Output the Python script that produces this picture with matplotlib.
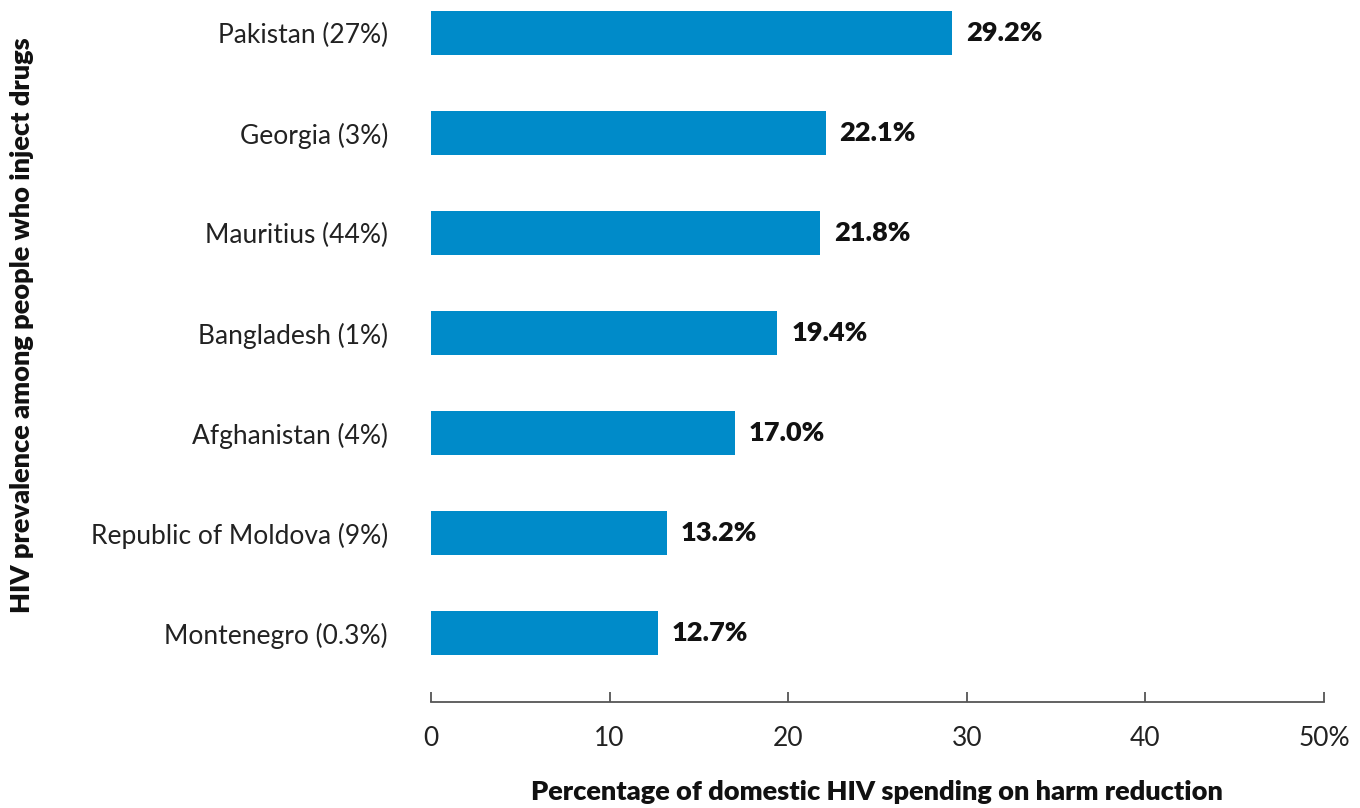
import matplotlib.pyplot as plt

# Countries (HIV prevalence among people who inject drugs) and harm reduction share
countries = ['Montenegro (0.3%)', 'Republic of Moldova (9%)', 'Afghanistan (4%)',
             'Bangladesh (1%)', 'Mauritius (44%)', 'Georgia (3%)', 'Pakistan (27%)']
spending = [12.7, 13.2, 17.0, 19.4, 21.8, 22.1, 29.2]
xticks = [0, 10, 20, 30, 40, 50]
xtick_labels = ['0', '10', '20', '30', '40', '50%']

plt.rcParams['font.family'] = ['Lato', 'DejaVu Sans']
bar_color = '#008BC9'

fig = plt.figure(figsize=(13.6, 8.08), dpi=100)
ax = fig.add_axes([0.3169, 0.1312, 0.6566, 0.8688])

pos = list(range(len(countries)))
ax.barh(pos, spending, height=0.44, color=bar_color)

for y, v in zip(pos, spending):
    ax.annotate(f'{v:.1f}%', xy=(v, y), xytext=(10, 0), textcoords='offset points',
                va='center', ha='left', fontsize=19.5, fontweight='heavy', color='#111111')

ax.set_xlim(0, 50)
ax.set_ylim(-0.69, 6.33)
ax.set_xticks(xticks)
ax.set_xticklabels(xtick_labels, fontsize=19, color='#222222')
ax.set_yticks(pos)
ax.set_yticklabels(countries, fontsize=19, color='#222222')

for side in ['top', 'right', 'left']:
    ax.spines[side].set_visible(False)
ax.spines['bottom'].set_color('#555555')
ax.spines['bottom'].set_linewidth(1.3)
ax.tick_params(axis='x', direction='in', length=7, width=1.3, color='#555555', pad=17)
ax.tick_params(axis='y', length=0, pad=31)

fig.text(0.645, 0.02, 'Percentage of domestic HIV spending on harm reduction',
         ha='center', va='center', fontsize=19.5, fontweight='heavy', color='#111111')
fig.text(0.016, 0.598, 'HIV prevalence among people who inject drugs', rotation=90,
         ha='center', va='center', fontsize=19.5, fontweight='heavy', color='#111111')

fig.savefig('out.png', dpi=100)
